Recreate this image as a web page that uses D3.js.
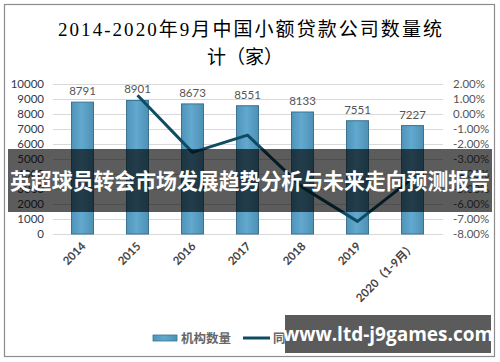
<!DOCTYPE html>
<html>
<head>
<meta charset="utf-8">
<script src="https://cdn.jsdelivr.net/npm/d3@7"></script>
<style>
  body { margin: 0; background: #fff; }
  svg text { font-family: Lato, "Noto Sans CJK SC", sans-serif; }
</style>
</head>
<body>
<div id="chart"></div>
<script>
const years = ['2014', '2015', '2016', '2017', '2018', '2019', '2020（1-9月）'];
const counts = [8791, 8901, 8673, 8551, 8133, 7551, 7227];
const growth = [null, 1.25, -2.56, -1.41, -4.89, -7.16, -4.29];
const leftTicks = [0, 1000, 2000, 3000, 4000, 5000, 6000, 7000, 8000, 9000, 10000];
const rightTicks = [-8, -7, -6, -5, -4, -3, -2, -1, 0, 1, 2];

const W = 500, H = 362;
const svg = d3.select('#chart').append('svg')
  .attr('width', W)
  .attr('height', H);

// bar gradient
const defs = svg.append('defs');
const grad = defs.append('linearGradient').attr('id', 'barGrad')
  .attr('x1', '0%').attr('x2', '100%').attr('y1', '0%').attr('y2', '0%');
grad.append('stop').attr('offset', '0%').attr('stop-color', '#4f93b8');
grad.append('stop').attr('offset', '45%').attr('stop-color', '#62a9cf');
grad.append('stop').attr('offset', '100%').attr('stop-color', '#4e90b4');

// frame
svg.append('rect')
  .attr('x', 4.5).attr('y', 4.5)
  .attr('width', 490).attr('height', 352)
  .attr('fill', '#fff')
  .attr('stroke', '#8c8c8c')
  .attr('stroke-width', 1.2);

// title
const title = svg.append('g')
  .attr('fill', '#000')
  .attr('text-anchor', 'middle');
title.append('text')
  .attr('x', 250).attr('y', 36)
  .style('font-family', '"Liberation Serif", "Noto Sans CJK SC", serif')
  .style('font-size', '19px')
  .attr('textLength', 384)
  .attr('lengthAdjust', 'spacing')
  .text('2014-2020年9月中国小额贷款公司数量统');
title.append('text')
  .attr('x', 245).attr('y', 64)
  .style('font-family', '"Liberation Serif", "Noto Sans CJK SC", serif')
  .style('font-size', '19px')
  .attr('textLength', 76)
  .attr('lengthAdjust', 'spacing')
  .text('计（家）');

const x = d3.scaleBand().domain(years).range([55, 440]).paddingInner(0.6).paddingOuter(0.3);
const y = d3.scaleLinear().domain([0, 10000]).range([234, 84]);
const y2 = d3.scaleLinear().domain([-8, 2]).range([234, 84]);

// gridlines
svg.append('g')
  .attr('transform', 'translate(53,0)')
  .call(d3.axisLeft(y).tickValues(leftTicks).tickSize(-390).tickFormat(''))
  .call(g => g.select('.domain').remove())
  .call(g => g.selectAll('line').attr('stroke', '#d9d9d9').attr('stroke-width', 1));

// left axis
svg.append('g')
  .attr('transform', 'translate(48,0)')
  .call(d3.axisLeft(y).tickValues(leftTicks).tickSize(0).tickPadding(4).tickFormat(d3.format('d')))
  .call(g => g.select('.domain').remove())
  .call(g => g.selectAll('text')
    .style('font-family', 'Lato, sans-serif')
    .style('font-size', '11.5px')
    .attr('fill', '#2f3a4a'));

// right axis
svg.append('g')
  .attr('transform', 'translate(451,0)')
  .call(d3.axisRight(y2).tickValues(rightTicks).tickSize(0).tickPadding(2)
    .tickFormat(d => d.toFixed(2) + '%'))
  .call(g => g.select('.domain').remove())
  .call(g => g.selectAll('text')
    .style('font-family', 'Lato, sans-serif')
    .style('font-size', '11.5px')
    .attr('fill', '#555'));

// bars
svg.append('g').selectAll('rect')
  .data(counts)
  .enter().append('rect')
  .attr('x', (d, i) => x(years[i]))
  .attr('y', d => y(d))
  .attr('width', x.bandwidth())
  .attr('height', d => y(0) - y(d))
  .attr('fill', 'url(#barGrad)')
  .attr('stroke', '#3b7391')
  .attr('stroke-width', 1);

// data labels
svg.append('g').selectAll('text')
  .data(counts)
  .enter().append('text')
  .attr('x', (d, i) => x(years[i]) + x.bandwidth() / 2)
  .attr('y', d => y(d) - 7)
  .attr('text-anchor', 'middle')
  .style('font-family', 'Lato, sans-serif')
  .style('font-size', '11.5px')
  .attr('fill', '#555')
  .text(d => d);

// x axis labels
svg.append('g').selectAll('text')
  .data(years)
  .enter().append('text')
  .attr('transform', d => `translate(${x(d) + x.bandwidth() / 2 + 4},${247}) rotate(-45)`)
  .attr('text-anchor', 'end')
  .style('font-family', 'Lato, "Noto Sans CJK SC", sans-serif')
  .style('font-size', '11.5px')
  .style('font-weight', 'bold')
  .attr('fill', '#444')
  .text(d => d);

// growth line
const line = d3.line()
  .defined(d => d != null)
  .x((d, i) => x(years[i]) + x.bandwidth() / 2)
  .y(d => y2(d));
svg.append('path')
  .datum(growth)
  .attr('d', line)
  .attr('fill', 'none')
  .attr('stroke', '#0f4c63')
  .attr('stroke-width', 3)
  .attr('stroke-linejoin', 'round');

// legend
const legend = svg.append('g').attr('transform', 'translate(153,338)');
legend.append('rect')
  .attr('x', 0).attr('y', -3).attr('width', 24).attr('height', 6)
  .attr('fill', 'url(#barGrad)').attr('stroke', '#3b7391').attr('stroke-width', 0.8);
legend.append('text')
  .attr('x', 28).attr('y', 5)
  .style('font-family', '"Noto Sans CJK SC", sans-serif')
  .style('font-size', '12.5px')
  .style('font-weight', 'bold')
  .attr('fill', '#666')
  .text('机构数量');
legend.append('line')
  .attr('x1', 90).attr('x2', 117).attr('y1', 0).attr('y2', 0)
  .attr('stroke', '#0f4c63').attr('stroke-width', 3);
legend.append('text')
  .attr('x', 120).attr('y', 5)
  .style('font-family', '"Noto Sans CJK SC", sans-serif')
  .style('font-size', '12.5px')
  .style('font-weight', 'bold')
  .attr('fill', '#666')
  .text('同比增速');

// overlay banner
svg.append('rect')
  .attr('x', 8).attr('y', 149)
  .attr('width', 484).attr('height', 63)
  .attr('fill', 'rgba(0,0,0,0.64)');
svg.append('text')
  .attr('x', 250).attr('y', 189)
  .attr('text-anchor', 'middle')
  .style('font-family', '"Noto Sans CJK SC", sans-serif')
  .style('font-size', '21.5px')
  .style('font-weight', 'bold')
  .attr('fill', '#fff')
  .attr('textLength', 480)
  .attr('lengthAdjust', 'spacingAndGlyphs')
  .text('英超球员转会市场发展趋势分析与未来走向预测报告');

// watermark
svg.append('rect')
  .attr('x', 285).attr('y', 315)
  .attr('width', 206).attr('height', 38)
  .attr('fill', '#5b5b5b');
svg.append('text')
  .attr('x', 388).attr('y', 341)
  .attr('text-anchor', 'middle')
  .style('font-family', '"Open Sans", "DejaVu Sans", sans-serif')
  .style('font-size', '19px')
  .style('font-weight', 'bold')
  .attr('fill', '#fff')
  .text('www.ltd-j9games.com');
</script>
</body>
</html>
